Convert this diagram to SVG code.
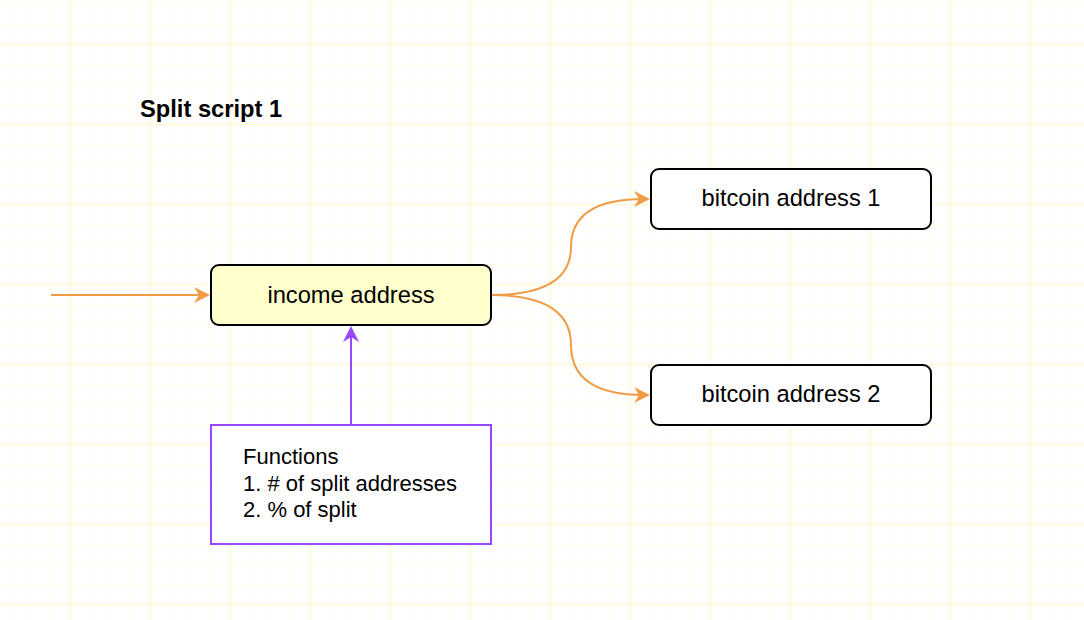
<svg xmlns="http://www.w3.org/2000/svg" width="1084" height="620" viewBox="0 0 1084 620">
  <defs>
    <pattern id="grid" x="70" y="44" width="80" height="80" patternUnits="userSpaceOnUse">
      <rect x="20" y="0" width="1" height="80" fill="#fffcec"/>
      <rect x="40" y="0" width="1" height="80" fill="#fffcec"/>
      <rect x="60" y="0" width="1" height="80" fill="#fffcec"/>
      <rect x="0" y="20" width="80" height="1" fill="#fffcec"/>
      <rect x="0" y="40" width="80" height="1" fill="#fffcec"/>
      <rect x="0" y="60" width="80" height="1" fill="#fffcec"/>
      <rect x="0" y="0" width="1" height="80" fill="#fff8c6"/>
      <rect x="0" y="0" width="80" height="1" fill="#fff8c6"/>
    </pattern>
    <marker id="arrO" markerWidth="16" markerHeight="16" viewBox="0 0 16 16" refX="10" refY="8" orient="auto" markerUnits="userSpaceOnUse">
      <path d="M0,0 L16,8 L0,16 L5,8 Z" fill="#f09c47"/>
    </marker>
    <marker id="arrP" markerWidth="16" markerHeight="16" viewBox="0 0 16 16" refX="10" refY="8" orient="auto" markerUnits="userSpaceOnUse">
      <path d="M0,0 L16,8 L0,16 L5,8 Z" fill="#9747ff"/>
    </marker>
    <style>
      .lbl { font-family: "Liberation Sans", Arial, Helvetica, sans-serif; font-size: 22px; fill: #000; }
      .big { font-size: 23.7px; }
      .node { stroke: #000; stroke-width: 2; }
      .eo { fill: none; stroke: #f09c47; stroke-width: 2; }
      .ep { fill: none; stroke: #9747ff; stroke-width: 2; }
    </style>
  </defs>
  <rect x="0" y="0" width="1084" height="620" fill="#ffffff"/>
  <rect x="0" y="0" width="1084" height="620" fill="url(#grid)"/>

  <text x="140" y="117" class="lbl big" font-weight="bold">Split script 1</text>

  <g id="connectors">
    <path class="eo" d="M51,295 L204,295" marker-end="url(#arrO)"/>
    <path class="eo" d="M491,295 Q571,295 571,247 Q571,199 644,199" marker-end="url(#arrO)"/>
    <path class="eo" d="M491,295 Q571,295 571,345 Q571,395 644,395" marker-end="url(#arrO)"/>
    <path class="ep" d="M351,425 L351,332" marker-end="url(#arrP)"/>
  </g>

  <g id="income">
    <rect class="node" x="211" y="265" width="280" height="60" rx="8" fill="#ffffcc"/>
    <text class="lbl big" x="351" y="302.5" text-anchor="middle">income address</text>
  </g>
  <g id="btc1">
    <rect class="node" x="651" y="169" width="280" height="60" rx="8" fill="#ffffff"/>
    <text class="lbl big" x="791" y="206" text-anchor="middle">bitcoin address 1</text>
  </g>
  <g id="btc2">
    <rect class="node" x="651" y="365" width="280" height="60" rx="8" fill="#ffffff"/>
    <text class="lbl big" x="791" y="402" text-anchor="middle">bitcoin address 2</text>
  </g>
  <g id="functions">
    <rect x="211" y="425" width="280" height="119" fill="#ffffff" stroke="#9747ff" stroke-width="2"/>
    <text class="lbl" x="243" y="464">Functions</text>
    <text class="lbl" x="243" y="490.5">1. # of split addresses</text>
    <text class="lbl" x="243" y="517">2. % of split</text>
  </g>
</svg>
